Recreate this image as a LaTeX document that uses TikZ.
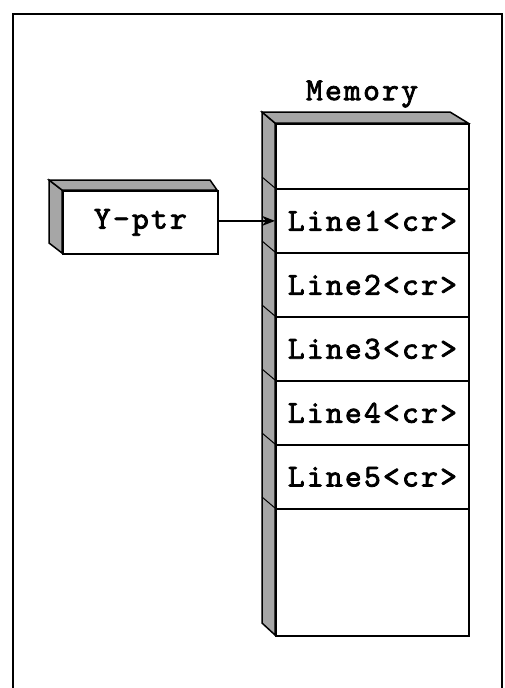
\documentclass[tikz,border=0pt]{standalone}
\usepackage{fontspec}
\newfontfamily\memmono{lmmono10-regular.otf}[FakeBold=2.5,LetterSpace=7]
\usetikzlibrary{arrows.meta}
\begin{document}
\begin{tikzpicture}[x=1pt,y=-1pt,
  cell/.style={draw, line width=1.8pt, minimum width=193pt, inner sep=0pt, fill=white, font=\memmono\fontsize{32}{32}\selectfont, anchor=north west},
  side/.style={draw, line width=1.5pt, fill=gray!70},
  lbl/.style={font=\memmono\fontsize{32}{32}\selectfont, inner sep=0pt},
  frame/.style={line width=2pt}]
\useasboundingbox (0,0) rectangle (504,688);
% outer frame
\draw[frame] (13,700) -- (13,14) -- (502,14) -- (502,700);
% memory side faces
\draw[side] (275,123) -- (262,112) -- (262,623) -- (275,635) -- cycle;
\draw[side] (262,112) -- (450,112) -- (468,123) -- (275,123) -- cycle;
% memory cells
\node[cell, minimum height=65pt] (m0) at (275,123) {};
\node[cell, minimum height=64pt] (m1) at (275,188) {Line1<cr>};
\node[cell, minimum height=64pt] (m2) at (275,252) {Line2<cr>};
\node[cell, minimum height=64pt] (m3) at (275,316) {Line3<cr>};
\node[cell, minimum height=64pt] (m4) at (275,380) {Line4<cr>};
\node[cell, minimum height=64pt] (m5) at (275,444) {Line5<cr>};
\node[cell, minimum height=127pt] (m6) at (275,508) {};
% diagonal edges on the side face at each divider
\foreach \n in {m1,m2,m3,m4,m5,m6}
  \draw[line width=1pt] (\n.north west) -- ++(-13,-11);
\node[lbl] (mem) at (362,94) {Memory};
% Y-ptr box
\draw[side] (62,190) -- (49,180) -- (49,243) -- (62,253) -- cycle;
\draw[side] (49,180) -- (210,180) -- (217,190) -- (62,190) -- cycle;
\node[cell, minimum width=155pt, minimum height=63pt] (ptr) at (62,190) {Y-ptr};
% arrow
\draw[line width=1.8pt, -{Stealth[length=13pt,width=10pt]}] (ptr.east |- m1.west) -- (m1.west);
\end{tikzpicture}
\end{document}
